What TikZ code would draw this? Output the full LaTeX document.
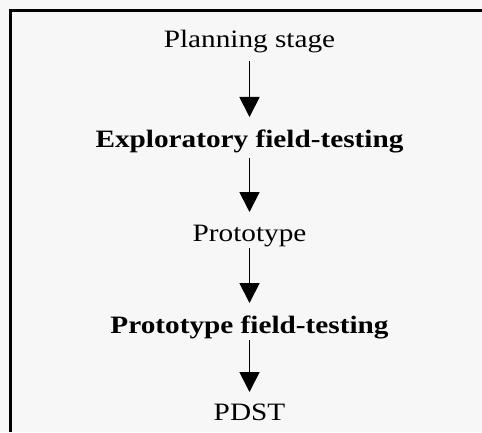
\documentclass[tikz,border=0pt]{standalone}
\usepackage{fontspec}
\setmainfont{Liberation Serif}
\usetikzlibrary{arrows.meta}
\tikzset{
  lbl/.style={anchor=base, inner sep=0pt, font=\fontsize{25}{30}\selectfont},
  arr/.style={line width=1.8pt, -{Triangle[width=20pt,length=20pt]}}
}
\newcommand{\wide}[1]{\scalebox{1.17}[1]{#1}}
\begin{document}
\begin{tikzpicture}[x=1pt,y=1pt]
  \fill[black!3] (0,0) rectangle (482,432);
  \useasboundingbox (0,0) rectangle (482,432);
  \draw[line width=3pt] (10,0) -- (10,421.5) -- (482,421.5);
  \node[lbl] (plan) at (249.5,384) {\wide{Planning stage}};
  \node[lbl] (expl) at (249.5,284) {\wide{\textbf{Exploratory field-testing}}};
  \node[lbl] (proto) at (249.5,191) {\wide{Prototype}};
  \node[lbl] (ptest) at (249.5,99) {\wide{\textbf{Prototype field-testing}}};
  \node[lbl] (pdst) at (249.5,12) {\wide{PDST}};
  \draw[arr] ([yshift=-13pt]plan.base) -- ([yshift=31pt]expl.base);
  \draw[arr] ([yshift=-10pt]expl.base) -- ([yshift=29pt]proto.base);
  \draw[arr] ([yshift=-7pt]proto.base) -- ([yshift=30pt]ptest.base);
  \draw[arr] ([yshift=-7pt]ptest.base) -- ([yshift=28pt]pdst.base);
\end{tikzpicture}
\end{document}
